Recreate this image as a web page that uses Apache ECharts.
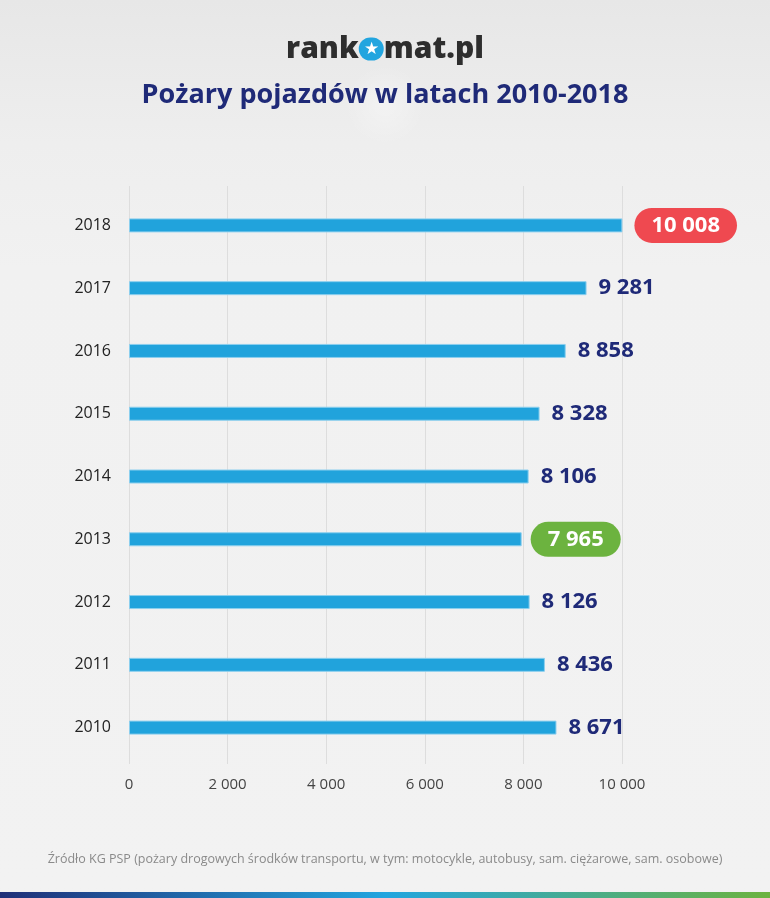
<!DOCTYPE html>
<html><head><meta charset="utf-8">
<script src="https://cdn.jsdelivr.net/npm/echarts@6/dist/echarts.min.js"></script>
<style>html,body{margin:0;padding:0;background:#f2f2f2}#c{width:770px;height:898px}</style>
</head><body><div id="c"></div>
<script>
const years = ['2010','2011','2012','2013','2014','2015','2016','2017','2018'];
const fires = [8671, 8436, 8126, 7965, 8106, 8328, 8858, 9281, 10008];
const maxYear = '2018';
const minYear = '2013';
const xTicks = [0, 2000, 4000, 6000, 8000, 10000];
const titleText = 'Pożary pojazdów w latach 2010-2018';
const sourceText = 'Źródło KG PSP (pożary drogowych środków transportu, w tym: motocykle, autobusy, sam. ciężarowe, sam. osobowe)';

const FONT = '"Open Sans", "Noto Sans", sans-serif';
const fmt = v => String(v).replace(/\B(?=(\d{3})+(?!\d))/g, ' ');

const data = fires.map((v, i) => {
  const y = years[i];
  const item = { value: v };
  if (y === maxYear || y === minYear) {
    item.label = {
      color: '#fff', backgroundColor: y === maxYear ? '#ef4950' : '#6cb33f',
      borderRadius: 18, padding: [7, 17, 6, 17], distance: y === maxYear ? 12 : 9
    };
  }
  return item;
});

const chart = echarts.init(document.getElementById('c'));
chart.setOption({
  animation: false,
  graphic: [
    { type: 'rect', z: -10, silent: true, shape: { x: 0, y: 0, width: 770, height: 898 },
      style: { fill: { type: 'linear', x: 0, y: 0, x2: 0, y2: 1, colorStops: [
        { offset: 0, color: '#e7e7e7' }, { offset: 0.16, color: '#eeeeee' }, { offset: 0.3, color: '#f1f1f1' }, { offset: 1, color: '#f2f2f2' }] } } },
    { type: 'ellipse', z: -9, silent: true, shape: { cx: 385, cy: 105, rx: 240, ry: 40 },
      style: { fill: { type: 'radial', x: 0.5, y: 0.5, r: 0.5, colorStops: [
        { offset: 0, color: 'rgba(255,255,255,0.35)' }, { offset: 1, color: 'rgba(255,255,255,0)' }] } } },
    { type: 'rect', silent: true, shape: { x: 0, y: 892, width: 770, height: 6 },
      style: { fill: { type: 'linear', x: 0, y: 0, x2: 1, y2: 0, colorStops: [
        { offset: 0, color: '#1f2f78' }, { offset: 0.5, color: '#22a5df' }, { offset: 1, color: '#6cb33f' }] } } },
    { type: 'text', left: 'center', top: 34, silent: true,
      style: { text: '{t|rank}{o|★}{t|mat.pl}', rich: {
        t: { fontFamily: FONT, fontWeight: 800, fontSize: 30, fill: '#2e2e2e', color: '#2e2e2e' },
        o: { backgroundColor: '#22a5df', borderRadius: 12, width: 23, height: 23, align: 'center',
             fontSize: 17, fill: '#ffffff', color: '#ffffff', verticalAlign: 'middle', lineHeight: 23, padding: [0, 1, 0, 1] } } } },
    { type: 'text', left: 'center', top: 82, silent: true,
      style: { text: titleText, font: 'bold 27px ' + FONT, fill: '#1f2a78' } },
    { type: 'text', left: 'center', top: 853, silent: true,
      style: { text: sourceText, font: '12.5px ' + FONT, fill: '#8a8a8a' } }
  ],
  grid: [
    { left: 129, right: 148, top: 194, bottom: 139, containLabel: false },
    { left: 129, right: 148, top: 186, bottom: 134, containLabel: false }
  ],
  xAxis: [{
    type: 'value', min: 0, max: 10000, interval: 2000, gridIndex: 0,
    axisLine: { show: false }, axisTick: { show: false }, splitLine: { show: false },
    axisLabel: { fontFamily: FONT, fontSize: 15, color: '#444', margin: 18, formatter: v => fmt(v) }
  }, {
    type: 'value', min: 0, max: 10000, interval: 2000, gridIndex: 1, z: 0,
    axisLine: { show: false }, axisTick: { show: false }, axisLabel: { show: false },
    splitLine: { lineStyle: { color: '#dddddd', width: 1 } }
  }],
  yAxis: [{
    type: 'category', data: years, gridIndex: 0,
    axisLine: { show: false }, axisTick: { show: false },
    axisLabel: { fontFamily: FONT, fontSize: 16, color: '#222', margin: 18 }
  }, {
    type: 'value', gridIndex: 1, show: false
  }],
  series: [{
    type: 'bar', data: data, barWidth: 14, z: 3,
    itemStyle: { color: '#21a3dc', borderColor: '#8ccfee', borderWidth: 1 },
    label: { show: true, position: 'right', distance: 12, fontFamily: FONT, fontWeight: 'bold',
      fontSize: 22, color: '#1f2a78', formatter: p => fmt(p.value) }
  }]
});
</script></body></html>
